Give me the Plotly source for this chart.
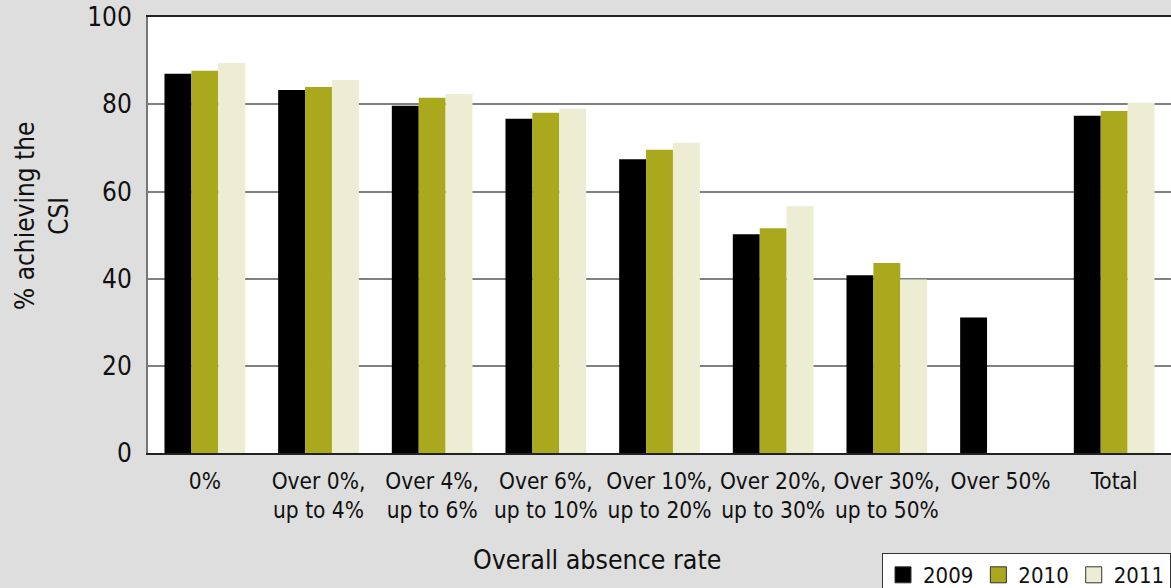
import plotly.graph_objects as go

categories = ["0%", "Over 0%,<br>up to 4%", "Over 4%,<br>up to 6%", "Over 6%,<br>up to 10%",
              "Over 10%,<br>up to 20%", "Over 20%,<br>up to 30%", "Over 30%,<br>up to 50%",
              "Over 50%", "Total"]
y2009 = [87.0, 83.3, 79.7, 76.7, 67.4, 50.2, 40.8, 31.1, 77.4]
y2010 = [87.7, 84.0, 81.5, 78.1, 69.6, 51.6, 43.6, None, 78.5]
y2011 = [89.5, 85.6, 82.4, 79.0, 71.2, 56.6, 39.8, None, 80.4]
series_names = ["2009", "2010", "2011"]
colors = ["#000000", "#AAA91D", "#EDEDD4"]
y_ticks = [0, 20, 40, 60, 80, 100]

FONT = "DejaVu Sans Condensed, Roboto Condensed, Roboto, sans-serif"

fig = go.Figure()
for name, vals, col in zip(series_names, [y2009, y2010, y2011], colors):
    fig.add_trace(go.Bar(x=categories, y=vals, name=name, showlegend=False, legendgroup=name,
                         marker=dict(color=col, line=dict(width=0))))
# legend swatches (larger squares with thin dark outline, as in the reference)
for name, col in zip(series_names, colors):
    fig.add_trace(go.Scatter(x=[None], y=[None], mode="markers", name=name, legendgroup=name,
                             marker=dict(symbol="square", size=18, color=col,
                                         line=dict(color="#333333", width=1))))

fig.update_layout(
    width=1171, height=588,
    margin=dict(l=148, r=0, t=17, b=135, autoexpand=False),
    paper_bgcolor="#DEDEDE", plot_bgcolor="#FFFFFF",
    barmode="group", bargap=0.29, bargroupgap=0,
    font=dict(family=FONT, color="#111111", size=22),
    showlegend=True,
    legend=dict(orientation="h", x=1, xanchor="right", xref="container",
                y=(588 - 553) / 588, yanchor="top", yref="container",
                bgcolor="#FFFFFF", bordercolor="#333333", borderwidth=1,
                font=dict(size=22, family=FONT), itemwidth=30, traceorder="normal"),
    xaxis=dict(showline=True, linecolor="#222222", linewidth=2, mirror=True,
               tickfont=dict(size=22.5, family=FONT), ticks="", showgrid=False,
               ticklabelstandoff=7, automargin=False),
    yaxis=dict(range=[0, 100.05], tickvals=y_ticks, showgrid=True, gridcolor="#808080", gridwidth=1.5,
               showline=True, linecolor="#777777", linewidth=2, zeroline=False,
               tickfont=dict(size=26, family=FONT), ticklabelstandoff=9, automargin=False),
    annotations=[
        dict(text="Overall absence rate", xref="paper", yref="paper", x=0.439, y=-0.245,
             xanchor="center", yanchor="middle", showarrow=False,
             font=dict(size=26.5, family=FONT)),
        dict(text="% achieving the<br>CSI", xref="paper", yref="paper", x=-0.1036, y=0.5436,
             xanchor="center", yanchor="middle", showarrow=False, textangle=-90,
             font=dict(size=26, family=FONT)),
    ],
)

fig.write_html("out.html", config={"displayModeBar": False},
               post_script="document.body.style.margin='0';")
